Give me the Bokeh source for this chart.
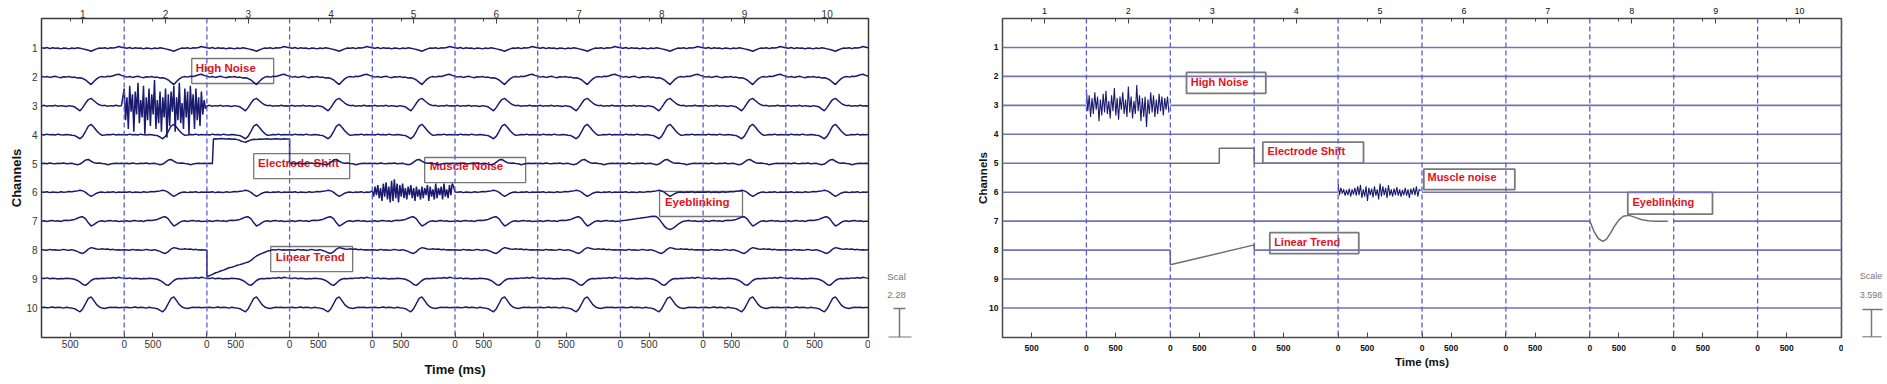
import numpy as np
from bokeh.plotting import figure
from bokeh.layouts import row
from bokeh.models import Range1d, FixedTicker, Span, LinearAxis
from bokeh.core.properties import value
from bokeh.embed import file_html
from bokeh.resources import INLINE

# ---------------- data ----------------
EPOCH_MS = 1440
N_EPOCHS = 10
epoch_labels = ["1", "2", "3", "4", "5", "6", "7", "8", "9", "10"]
channel_labels = ["1", "2", "3", "4", "5", "6", "7", "8", "9", "10"]
time_tick_values = [0, 500]
template_t = list(range(0, 1440, 48))      # 30 samples per epoch
noise_t = list(range(0, 1440, 24))         # 60 samples per epoch

# left panel: per-channel epoch waveform (units of channel spacing, + = up)
ch1_left = [0.02, 0.00, 0.03, -0.01, 0.02, 0.00, 0.01, -0.02, 0.01, 0.00, -0.02, 0.01, -0.01, 0.02, 0.00,
            -0.02, -0.04, -0.07, -0.10, -0.06, -0.02, 0.01, 0.00, 0.02, -0.01, 0.02, 0.01, 0.03, 0.06, 0.04]
ch2_left = [0.03, 0.00, 0.02, -0.01, 0.01, 0.03, 0.00, -0.02, 0.01, 0.00, 0.02, -0.01, 0.00, -0.03, -0.02,
            -0.05, -0.10, -0.18, -0.26, -0.15, -0.06, 0.00, 0.02, 0.00, 0.03, 0.02, 0.05, 0.08, 0.10, 0.06]
ch3_left = [0.00, 0.02, -0.01, 0.01, 0.00, 0.02, -0.01, 0.01, 0.00, -0.02, 0.01, -0.01, -0.03, -0.10, -0.17,
            -0.05, 0.10, 0.22, 0.26, 0.18, 0.10, 0.04, 0.01, 0.02, -0.01, 0.01, 0.00, 0.02, 0.00, 0.01]
ch4_left = [0.01, -0.01, 0.02, 0.00, 0.01, -0.01, 0.02, 0.00, -0.01, 0.01, 0.00, -0.02, -0.03, -0.08, -0.14,
            -0.05, 0.12, 0.30, 0.36, 0.26, 0.14, 0.04, -0.02, -0.01, 0.01, 0.00, 0.02, -0.01, 0.01, 0.00]
ch5_left = [0.00, 0.01, -0.01, 0.02, 0.00, -0.01, 0.01, 0.00, 0.02, -0.01, 0.00, 0.01, -0.02, -0.04, -0.02,
            0.05, 0.12, 0.14, 0.08, 0.03, 0.01, 0.02, 0.00, -0.01, -0.04, -0.02, 0.00, 0.01, 0.00, 0.01]
ch6_left = [0.01, 0.00, 0.02, -0.01, 0.01, 0.00, -0.01, 0.02, 0.00, 0.01, 0.03, 0.02, 0.04, 0.05, 0.07,
            0.05, 0.00, -0.08, -0.14, -0.09, -0.03, 0.00, 0.01, -0.01, 0.01, 0.00, 0.02, -0.01, 0.01, 0.00]
ch7_left = [0.00, 0.01, -0.01, 0.01, 0.02, 0.00, 0.01, -0.01, 0.02, 0.03, 0.02, 0.04, 0.06, 0.10, 0.14,
            0.15, 0.08, -0.06, -0.17, -0.12, -0.05, 0.00, 0.01, -0.01, 0.01, 0.02, 0.00, 0.01, -0.01, 0.00]
ch8_left = [0.01, 0.00, -0.01, 0.02, 0.00, 0.01, -0.01, 0.00, 0.02, 0.00, -0.01, 0.01, -0.02, -0.05, -0.10,
            -0.12, -0.06, 0.03, 0.08, 0.06, 0.03, 0.02, 0.04, 0.02, 0.03, 0.01, 0.02, 0.00, 0.01, 0.00]
ch9_left = [0.02, 0.01, 0.03, 0.00, 0.02, 0.01, -0.01, 0.01, 0.00, 0.02, 0.01, 0.00, -0.02, -0.06, -0.12,
            -0.20, -0.23, -0.15, -0.06, -0.01, 0.01, 0.00, 0.02, 0.01, 0.03, 0.02, 0.04, 0.02, 0.05, 0.03]
ch10_left = [0.00, 0.01, -0.01, 0.00, 0.02, -0.01, 0.01, 0.00, -0.02, 0.01, -0.01, -0.02, -0.04, -0.10, -0.15,
             -0.04, 0.14, 0.32, 0.37, 0.24, 0.10, 0.02, -0.02, -0.03, -0.01, 0.01, 0.00, 0.01, -0.01, 0.00]

# left panel artifacts
hn_left = [0.6, -0.5, 0.3, -0.8, 0.7, -0.2, 0.4, -0.9, 0.5, -0.3, 0.8, -0.6, 0.2, -0.4, 0.7, -1.0, 0.3, -0.5,
           0.6, -0.7, 0.4, -0.3, 0.9, -0.8, 0.2, -0.6, 0.5, -0.9, 0.3, -0.4, 0.6, -1.1, 0.4, -0.7, 0.5, -0.2,
           0.7, -0.9, 0.3, -0.5, 0.8, -0.6, 0.1, -0.8, 0.6, -0.4, 0.5, -1.0, 0.7, -0.3, 0.4, -0.8, 0.6, -0.5,
           0.3, -0.7, 0.5, -0.3, 0.2, -0.1]
es_left_t = [0, 48, 96, 114, 144, 192, 240, 288, 336, 384, 432, 480, 528, 576, 624, 672, 720, 768, 816, 864,
             912, 960, 1008, 1056, 1104, 1152, 1200, 1248, 1296, 1344, 1392, 1440]
es_left_v = [0.00, 0.01, -0.01, 0.85, 0.86, 0.85, 0.87, 0.86, 0.85, 0.86, 0.84, 0.85, 0.83, 0.80, 0.76, 0.74,
             0.78, 0.82, 0.84, 0.83, 0.85, 0.84, 0.85, 0.86, 0.84, 0.85, 0.86, 0.85, 0.84, 0.86, 0.85, 0.85]
mn_left = [0.05, -0.15, 0.2, -0.1, 0.25, -0.2, 0.15, -0.3, 0.3, -0.15, 0.35, -0.25, 0.2, -0.35, 0.4, -0.3,
           0.45, -0.2, 0.3, -0.35, 0.25, -0.15, 0.3, -0.2, 0.15, -0.25, 0.2, -0.1, 0.25, -0.2, 0.15, -0.3,
           0.2, -0.15, 0.1, -0.25, 0.2, -0.2, 0.15, -0.1, 0.25, -0.3, 0.2, -0.15, 0.1, -0.25, 0.3, -0.2,
           0.15, -0.1, 0.2, -0.25, 0.3, -0.15, 0.1, -0.2, 0.25, -0.1, 0.3, 0.2]
eb_left_v = [0.00, 0.02, 0.03, 0.05, 0.06, 0.07, 0.09, 0.10, 0.12, 0.13, 0.14, 0.16, 0.17, 0.16, 0.08,
             -0.05, -0.18, -0.26, -0.29, -0.25, -0.18, -0.10, -0.04, 0.00, 0.01, 0.02, 0.00, 0.01, -0.01, 0.00]
lt_left_t = [0] + list(range(0, 1440, 48))
lt_left_v = [0.00, -0.93, -0.89, -0.85, -0.80, -0.77, -0.73, -0.70, -0.66, -0.62, -0.60, -0.57, -0.53, -0.51,
             -0.48, -0.45, -0.42, -0.36, -0.28, -0.21, -0.16, -0.12, -0.08, -0.04, -0.02, 0.01, 0.00, 0.02,
             0.00, 0.01, 0.00]

# right panel: flat baselines with artifacts
baseline_t = [0, 1440]
baseline_v = [0.0, 0.0]
hn_right = [0.55, -0.2, 0.35, -0.4, 0.25, -0.3, 0.45, -0.15, 0.3, -0.55, 0.2, -0.35, 0.4, -0.25, 0.5, -0.3,
            0.15, -0.45, 0.35, -0.2, 0.6, -0.35, 0.25, -0.5, 0.3, -0.15, 0.45, -0.3, 0.2, -0.4, 0.65, -0.25,
            0.3, -0.45, 0.15, -0.3, 0.7, -0.2, 0.35, -0.55, 0.25, -0.4, 0.3, -0.75, 0.2, -0.3, 0.45, -0.25,
            0.35, -0.4, 0.2, -0.3, 0.4, -0.2, 0.3, -0.35, 0.25, -0.15, 0.3, -0.25]
mn_right = [0.3, -0.1, 0.15, -0.05, 0.1, -0.12, 0.08, -0.1, 0.12, -0.15, 0.1, -0.08, 0.15, -0.12, 0.2, -0.1,
            0.25, -0.2, 0.1, -0.15, 0.2, -0.3, 0.15, -0.1, 0.12, -0.18, 0.2, -0.12, 0.1, -0.25, 0.3, -0.15,
            0.2, -0.1, 0.15, -0.2, 0.25, -0.12, 0.1, -0.15, 0.12, -0.1, 0.18, -0.12, 0.1, -0.15, 0.08, -0.1,
            0.15, -0.12, 0.1, -0.2, 0.12, -0.08, 0.15, -0.1, 0.2, -0.15, 0.1, 0.05]
es_right_t = [0, 841, 841, 1440, 1440]
es_right_v = [0.0, 0.0, 0.52, 0.52, 0.0]
lt_right_t = [0, 0, 1440, 1440]
lt_right_v = [0.0, -0.51, 0.18, 0.0]
eb_right_t = [0, 72, 144, 223, 288, 360, 432, 504, 576, 677, 792, 893, 1008, 1109, 1339]
eb_right_v = [0.0, -0.35, -0.6, -0.7, -0.62, -0.4, -0.15, 0.05, 0.17, 0.2, 0.12, 0.05, 0.01, 0.0, 0.0]

left_names = ["High Noise", "Electrode Shift", "Muscle Noise", "Eyeblinking", "Linear Trend"]
right_names = ["High Noise", "Electrode Shift", "Muscle noise", "Eyeblinking", "Linear Trend"]
left_scale = ["Scal", "2.28"]
right_scale = ["Scale", "3.598"]

# ---------------- styling ----------------
FONT_NAME = "Liberation Sans"
FONT = value(FONT_NAME)
NAVY = "#1a1a6e"
SLATE = "#7272b4"
GRAY = "#6e6e6e"
DASH = "#5a5ad2"
RED = "#e3121b"
TOTAL = EPOCH_MS * N_EPOCHS


def make_fig(width, height, y_start, y_end, mb_left, mb_right, mb_top, mb_bottom):
    p = figure(width=width, height=height, x_range=Range1d(0, TOTAL), y_range=Range1d(y_start, y_end),
               output_backend="svg", toolbar_location=None, x_axis_location="below",
               min_border_left=mb_left, min_border_right=mb_right,
               min_border_top=mb_top, min_border_bottom=mb_bottom)
    p.grid.visible = False
    p.background_fill_color = "white"
    p.border_fill_color = "white"
    return p


def style_axes(p, tick_font, tick_style, top_font, axis_font, ylab_standoff, xlab_standoff,
               bottom_standoff, top_standoff, left_standoff, tick_color):
    p.add_layout(LinearAxis(), "above")
    xb, xt = p.below[0], p.above[0]
    yl = p.left[0]
    bottom_ticks, bottom_over = [], {}
    for e in range(N_EPOCHS):
        for tv in time_tick_values:
            pos = e * EPOCH_MS + tv
            if pos > 0:
                bottom_ticks.append(pos)
                bottom_over[pos] = str(tv)
    bottom_ticks.append(TOTAL)
    bottom_over[TOTAL] = str(time_tick_values[0])
    xb.ticker = FixedTicker(ticks=bottom_ticks)
    xb.major_label_overrides = bottom_over
    centers = [(e + 0.5) * EPOCH_MS for e in range(N_EPOCHS)]
    xt.ticker = FixedTicker(ticks=centers,
                            minor_ticks=[e * EPOCH_MS + time_tick_values[1] for e in range(N_EPOCHS)])
    xt.major_label_overrides = {c: lab for c, lab in zip(centers, epoch_labels)}
    yl.ticker = FixedTicker(ticks=list(range(1, 11)))
    yl.major_label_overrides = {i + 1: lab for i, lab in enumerate(channel_labels)}
    for ax in (xb, xt, yl):
        ax.axis_line_color = None
        ax.major_label_text_font = FONT_NAME
        ax.major_label_text_color = tick_color
        ax.axis_label_text_font = FONT_NAME
        ax.axis_label_text_font_style = "bold"
        ax.axis_label_text_font_size = axis_font
        ax.axis_label_text_color = "#111111"
    for ax in (xb, xt):
        ax.major_tick_in = 5
        ax.major_tick_out = 0
        ax.minor_tick_in = 3
        ax.minor_tick_out = 0
        ax.major_tick_line_color = "#444444"
        ax.minor_tick_line_color = "#444444"
    xb.minor_tick_line_color = None
    xb.major_label_text_font_size = tick_font
    xb.major_label_text_font_style = tick_style
    xt.major_label_text_font_size = top_font
    xt.major_label_text_font_style = "normal"
    yl.major_label_text_font_size = tick_font
    yl.major_label_text_font_style = tick_style
    yl.major_tick_line_color = None
    yl.minor_tick_line_color = None
    yl.major_tick_in = 0
    yl.major_tick_out = 0
    yl.minor_tick_in = 0
    yl.minor_tick_out = 0
    xb.major_label_standoff = bottom_standoff
    xt.major_label_standoff = top_standoff
    yl.major_label_standoff = left_standoff
    xb.axis_label = "Time (ms)"
    yl.axis_label = "Channels"
    xb.axis_label_standoff = xlab_standoff
    yl.axis_label_standoff = ylab_standoff


def series(template_t_, template_v, artifacts, ch):
    xs, ys = [], []
    for e in range(N_EPOCHS):
        t, v = artifacts.get((ch, e), (template_t_, template_v))
        xs += [e * EPOCH_MS + ti for ti in t]
        ys += [ch - vi for vi in v]
    return xs, ys


def scale_fig(width, y_start, y_end, mb_top, mb_bottom, texts, text_x, y1, y2, bar_x,
              bar_top, bar_bot, tee_top, tee_bot, size):
    # strip beside a panel holding the amplitude scale bar (x in px, y in channel units)
    s = figure(width=width, height=384, x_range=Range1d(0, width), y_range=Range1d(y_start, y_end),
               output_backend="svg", toolbar_location=None, x_axis_location=None, y_axis_location=None,
               min_border_left=0, min_border_right=0, min_border_top=mb_top, min_border_bottom=mb_bottom,
               outline_line_color=None)
    s.grid.visible = False
    s.text(x=[text_x, text_x], y=[y1, y2], text=texts, text_font=FONT, text_font_size=size,
           text_color="#777777", text_align="center", text_baseline="middle")
    s.segment(x0=[bar_x, tee_top[0], tee_bot[0]], y0=[bar_top, bar_top, bar_bot],
              x1=[bar_x, tee_top[1], tee_bot[1]], y1=[bar_bot, bar_top, bar_bot],
              line_color="#777777", line_width=1.5)
    return s


# ---------------- left panel ----------------
p1 = make_fig(870, 384, 11.04, -0.035, 41, 2, 18, 47)
style_axes(p1, "10px", "normal", "10px", "13px", -1, 11, 2, 1, 4, "#333333")
p1.outline_line_color = "#3a3a3a"
p1.outline_line_width = 1.5

p1.quad(left=[2616, 3695, 6672, 10762, 3991], right=[4043, 5366, 8430, 12206, 5418],
        top=[1.354, 4.653, 4.79, 5.97, 7.88], bottom=[2.222, 5.521, 5.66, 6.84, 8.75],
        fill_alpha=0, line_color="#777777", line_width=1.3)
p1.text(x=[2686, 3770, 6759, 10855, 4078], y=[1.667, 4.99, 5.10, 6.32, 8.23], text=left_names,
        text_font=FONT, text_font_style="bold", text_font_size="11.5px", text_color=RED,
        text_baseline="middle", text_align="left")

left_templates = [ch1_left, ch2_left, ch3_left, ch4_left, ch5_left,
                  ch6_left, ch7_left, ch8_left, ch9_left, ch10_left]
left_artifacts = {
    (3, 1): (noise_t, hn_left),
    (5, 2): (es_left_t, es_left_v),
    (6, 4): (noise_t, mn_left),
    (7, 7): (template_t, eb_left_v),
    (8, 2): (lt_left_t, lt_left_v),
}
for i, tmpl in enumerate(left_templates):
    ch = i + 1
    xs, ys = series(template_t, tmpl, left_artifacts, ch)
    xs.append(TOTAL)
    ys.append(ch - tmpl[0])
    p1.line(xs, ys, line_color=NAVY, line_width=1.5)

for e in range(1, N_EPOCHS):
    p1.add_layout(Span(location=e * EPOCH_MS, dimension="height", line_color=DASH,
                       line_dash="5 3", line_width=1.3))

s1 = scale_fig(65, 11.04, -0.035, 18, 47, left_scale, 26, 8.92, 9.55, 29, 10.03, 11.03,
               (23, 35), (18, 41), "9.5px")

# ---------------- right panel ----------------
p2 = make_fig(908, 384, 11.02, 0.0, 67, 2, 16, 43)
style_axes(p2, "8.5px", "bold", "9px", "11.5px", -3, 2, 7, 5, 4, "#111111")
p2.outline_line_color = "#4a4a4a"
p2.outline_line_width = 1.5

p2.quad(left=[3158, 4468, 7231, 10732, 4588], right=[4519, 6196, 8793, 12186, 6115],
        top=[1.863, 4.272, 5.2, 6.01, 7.40], bottom=[2.586, 4.995, 5.91, 6.76, 8.12],
        fill_alpha=0.0, line_color="#7a7a7a", line_width=1.8)
p2.text(x=[3232, 4548, 7294, 10813, 4662], y=[2.18, 4.59, 5.49, 6.35, 7.71], text=right_names,
        text_font=FONT, text_font_style="bold", text_font_size="11px", text_color=RED,
        text_baseline="middle", text_align="left")

right_artifacts = {
    (3, 1): (noise_t, hn_right, NAVY, 1.1),
    (5, 2): (es_right_t, es_right_v, GRAY, 1.5),
    (6, 4): (noise_t, mn_right, NAVY, 1.1),
    (7, 7): (eb_right_t, eb_right_v, GRAY, 1.5),
    (8, 2): (lt_right_t, lt_right_v, GRAY, 1.5),
}
for ch in range(1, 11):
    xs, ys = [], []
    for e in range(N_EPOCHS):
        if (ch, e) in right_artifacts:
            xs.append(np.nan)
            ys.append(np.nan)
            continue
        xs += [e * EPOCH_MS + t for t in baseline_t]
        ys += [ch - v for v in baseline_v]
    p2.line(xs, ys, line_color=SLATE, line_width=1.6)
for (ch, e), (t, v, col, lw) in right_artifacts.items():
    p2.line([e * EPOCH_MS + ti for ti in t], [ch - vi for vi in v], line_color=col, line_width=lw)

for e in range(1, N_EPOCHS + 1):
    p2.add_layout(Span(location=e * EPOCH_MS, dimension="height", line_color=DASH,
                       line_dash="5 3", line_width=1.3))

s2 = scale_fig(44, 11.02, 0.0, 16, 43, right_scale, 27.5, 8.90, 9.54, 28, 10.05, 11.0,
               (19, 39), (19, 38), "9px")

layout = row(p1, s1, p2, s2)
open("out.html", "w").write(file_html(layout, INLINE))
